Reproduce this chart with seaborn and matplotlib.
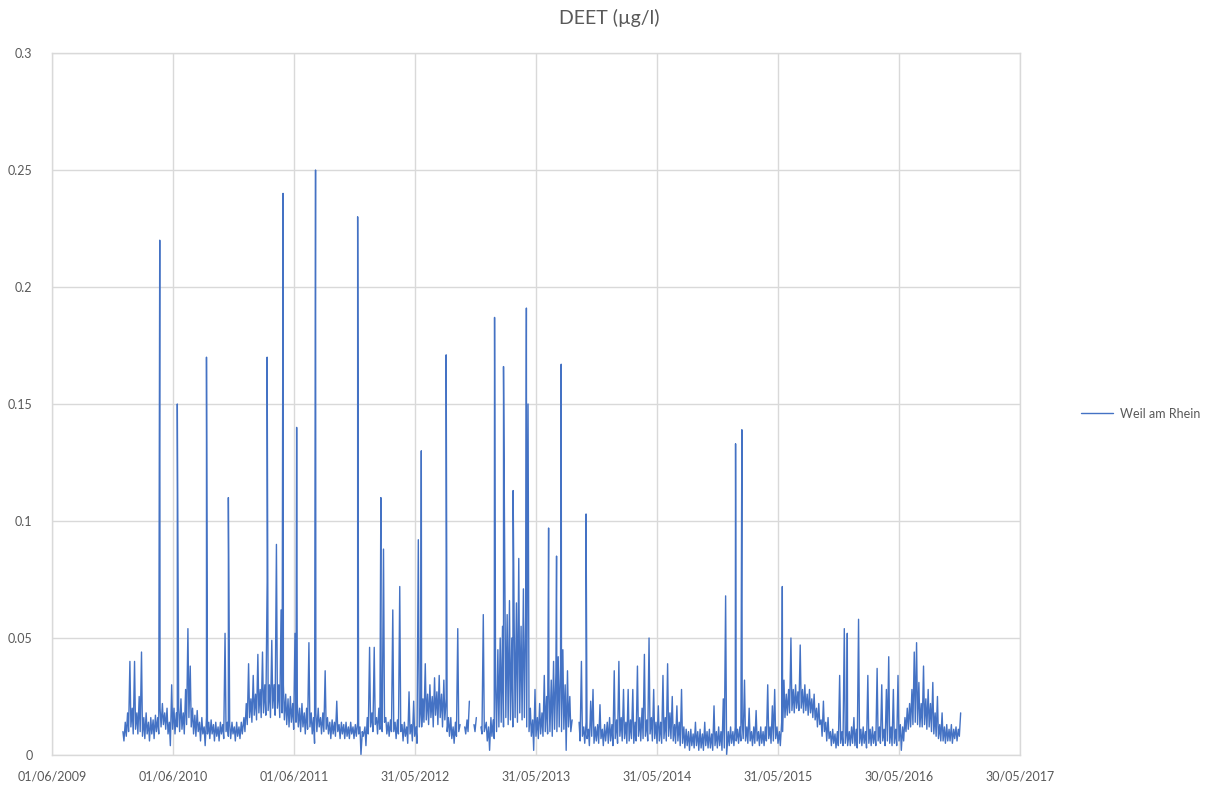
import matplotlib
matplotlib.use('Agg')
import numpy as np
import pandas as pd
import seaborn as sns
import matplotlib.pyplot as plt
import matplotlib.dates as mdates

nan = np.nan

# DEET at Weil am Rhein (ug/l)
# hi_* : upper reading of each week (from 1 Jan), lo_* : lower reading of each week (from 4 Jan)
hi_2010 = [0.010, 0.014, 0.018, 0.040, 0.020, 0.040, 0.018, 0.025, 0.044, 0.016,
           0.018, 0.014, 0.016, 0.015, 0.017, 0.016, 0.020, 0.022, 0.018, 0.020,
           0.014, 0.030, 0.020, 0.018, 0.020, 0.024, 0.018, 0.028, 0.054, 0.038,
           0.020, 0.017, 0.019, 0.014, 0.016, 0.012, 0.016, 0.014, 0.015, 0.013,
           0.014, 0.012, 0.014, 0.013, 0.052, 0.014, 0.013, 0.014, 0.012, 0.014,
           0.012, 0.014]
lo_2010 = [0.006, 0.008, 0.010, 0.012, 0.009, 0.011, 0.009, 0.010, 0.008, 0.007,
           0.009, 0.006, 0.009, 0.007, 0.010, 0.009, 0.012, 0.013, 0.011, 0.009,
           0.004, 0.011, 0.009, 0.012, 0.010, 0.011, 0.009, 0.013, 0.016, 0.012,
           0.009, 0.008, 0.010, 0.006, 0.009, 0.004, 0.009, 0.007, 0.009, 0.006,
           0.008, 0.006, 0.009, 0.007, 0.010, 0.008, 0.007, 0.009, 0.006, 0.008,
           0.007, 0.009]
hi_2011 = [0.016, 0.022, 0.039, 0.024, 0.034, 0.026, 0.043, 0.028, 0.044, 0.030,
           0.074, 0.030, 0.049, 0.030, 0.090, 0.030, 0.062, 0.030, 0.026, 0.024,
           0.025, 0.022, 0.052, 0.022, 0.020, 0.022, 0.018, 0.020, 0.048, 0.018,
           0.016, 0.018, 0.020, 0.016, 0.018, 0.036, 0.016, 0.014, 0.015, 0.014,
           0.023, 0.013, 0.014, 0.013, 0.014, 0.012, 0.014, 0.012, 0.013, 0.014,
           0.012, 0.010]
lo_2011 = [0.010, 0.013, 0.016, 0.014, 0.017, 0.015, 0.018, 0.016, 0.018, 0.017,
           0.019, 0.016, 0.020, 0.017, 0.020, 0.016, 0.018, 0.015, 0.013, 0.012,
           0.014, 0.011, 0.014, 0.012, 0.010, 0.012, 0.009, 0.011, 0.012, 0.009,
           0.005, 0.010, 0.012, 0.009, 0.010, 0.011, 0.009, 0.007, 0.009, 0.008,
           0.010, 0.007, 0.009, 0.007, 0.008, 0.007, 0.009, 0.007, 0.008, 0.009,
           0.000, 0.008]
hi_2012 = [0.012, 0.016, 0.046, 0.018, 0.046, 0.016, 0.020, 0.016, 0.088, 0.016,
           0.014, 0.015, 0.062, 0.014, 0.015, 0.072, 0.013, 0.014, 0.012, 0.027,
           0.013, 0.023, 0.012, 0.092, 0.020, 0.024, 0.039, 0.026, 0.030, 0.025,
           0.033, 0.027, 0.034, 0.026, 0.032, 0.024, 0.016, 0.016, 0.012, 0.014,
           0.054, 0.013, nan, 0.012, 0.015, 0.023, nan, 0.013, 0.016, nan,
           0.012, 0.060]
lo_2012 = [0.004, 0.009, 0.012, 0.010, 0.013, 0.009, 0.011, 0.010, 0.014, 0.009,
           0.008, 0.010, 0.010, 0.007, 0.009, 0.010, 0.006, 0.008, 0.005, 0.009,
           0.006, 0.008, 0.005, 0.012, 0.012, 0.014, 0.015, 0.013, 0.016, 0.012,
           0.017, 0.013, 0.016, 0.012, 0.015, 0.010, 0.008, 0.007, 0.005, 0.008,
           0.010, nan, nan, 0.009, 0.010, nan, nan, 0.010, nan, nan,
           0.009, 0.010]
hi_2013 = [0.014, 0.012, 0.016, 0.015, 0.030, 0.045, 0.050, 0.055, 0.075, 0.060,
           0.066, 0.050, 0.058, 0.065, 0.084, 0.055, 0.071, 0.060, 0.150, 0.020,
           0.015, 0.028, 0.016, 0.022, 0.018, 0.034, 0.025, 0.030, 0.032, 0.040,
           0.035, 0.042, 0.038, 0.045, 0.030, 0.036, 0.025, 0.015, nan, nan,
           0.014, 0.040, 0.012, 0.014, 0.011, 0.023, 0.028, 0.012, 0.013, 0.0215,
           0.011, 0.013]
lo_2013 = [0.006, 0.002, 0.008, 0.007, 0.010, 0.012, 0.014, 0.012, 0.016, 0.013,
           0.015, 0.012, 0.016, 0.014, 0.018, 0.015, 0.016, 0.012, 0.010, 0.008,
           0.002, 0.008, 0.007, 0.009, 0.008, 0.010, 0.009, 0.010, 0.008, 0.011,
           0.010, 0.012, 0.010, 0.011, 0.002, 0.012, 0.010, nan, nan, nan,
           0.006, 0.008, 0.005, 0.007, 0.004, 0.008, 0.005, 0.006, 0.005, 0.007,
           0.004, 0.006]
hi_2014 = [0.014, 0.016, 0.013, 0.036, 0.015, 0.040, 0.016, 0.028, 0.014, 0.028,
           0.015, 0.028, 0.014, 0.038, 0.016, 0.020, 0.043, 0.015, 0.050, 0.016,
           0.028, 0.014, 0.021, 0.014, 0.034, 0.016, 0.039, 0.018, 0.025, 0.013,
           0.021, 0.014, 0.028, 0.012, 0.011, 0.010, 0.011, 0.009, 0.014, 0.010,
           0.011, 0.009, 0.014, 0.010, 0.011, 0.009, 0.021, 0.010, 0.012, 0.010,
           0.024, 0.068]
lo_2014 = [0.005, 0.006, 0.004, 0.007, 0.005, 0.008, 0.006, 0.007, 0.005, 0.006,
           0.007, 0.005, 0.006, 0.008, 0.006, 0.007, 0.008, 0.006, 0.009, 0.006,
           0.007, 0.005, 0.006, 0.005, 0.007, 0.006, 0.008, 0.007, 0.006, 0.005,
           0.006, 0.004, 0.005, 0.003, 0.004, 0.002, 0.004, 0.003, 0.004, 0.002,
           0.003, 0.002, 0.004, 0.003, 0.003, 0.002, 0.004, 0.003, 0.004, 0.002,
           0.003, 0.000]
hi_2015 = [0.010, 0.012, 0.010, 0.012, 0.011, 0.012, 0.015, 0.032, 0.012, 0.020,
           0.010, 0.012, 0.019, 0.010, 0.012, 0.010, 0.012, 0.030, 0.012, 0.021,
           0.028, 0.012, 0.010, 0.014, 0.032, 0.026, 0.028, 0.050, 0.028, 0.030,
           0.027, 0.047, 0.028, 0.030, 0.026, 0.028, 0.024, 0.026, 0.020, 0.022,
           0.015, 0.023, 0.014, 0.016, 0.010, 0.011, 0.009, 0.010, 0.034, 0.010,
           0.054, 0.010]
lo_2015 = [0.004, 0.005, 0.004, 0.006, 0.005, 0.006, 0.007, 0.006, 0.005, 0.006,
           0.004, 0.005, 0.006, 0.004, 0.005, 0.004, 0.006, 0.007, 0.005, 0.006,
           0.007, 0.005, 0.004, 0.010, 0.016, 0.017, 0.018, 0.019, 0.018, 0.020,
           0.019, 0.020, 0.018, 0.019, 0.017, 0.018, 0.016, 0.015, 0.012, 0.013,
           0.008, 0.010, 0.006, 0.007, 0.004, 0.005, 0.003, 0.004, 0.005, 0.004,
           0.005, 0.004]
hi_2016 = [0.010, 0.012, 0.016, 0.011, 0.058, 0.011, 0.012, 0.010, 0.034, 0.011,
           0.012, 0.010, 0.037, 0.012, 0.030, 0.011, 0.028, 0.042, 0.012, 0.028,
           0.011, 0.034, 0.013, 0.012, 0.016, 0.020, 0.022, 0.028, 0.044, 0.048,
           0.031, 0.022, 0.038, 0.024, 0.028, 0.022, 0.031, 0.018, 0.025, 0.013,
           0.018, 0.012, 0.013, 0.011, 0.013, 0.011, 0.012, 0.011, 0.018]
lo_2016 = [0.004, 0.005, 0.004, 0.003, 0.005, 0.004, 0.005, 0.003, 0.005, 0.004,
           0.005, 0.004, 0.006, 0.005, 0.006, 0.004, 0.006, 0.005, 0.004, 0.005,
           0.004, 0.006, 0.002, 0.006, 0.010, 0.011, 0.012, 0.013, 0.014, 0.013,
           0.012, 0.012, 0.013, 0.011, 0.012, 0.010, 0.009, 0.008, 0.007, 0.006,
           0.006, 0.005, 0.006, 0.006, 0.005, 0.007, 0.006, 0.008]

# single-day peaks
spike_dates = ['2010-04-22', '2010-06-14', '2010-09-10', '2010-11-15', '2011-03-12',
               '2011-04-29', '2011-06-09', '2011-08-05', '2011-12-10', '2012-02-18',
               '2012-06-19', '2012-09-02', '2013-01-26', '2013-02-22', '2013-03-23',
               '2013-05-02', '2013-07-08', '2013-08-01', '2013-08-15', '2013-10-29',
               '2015-01-23', '2015-02-11', '2015-06-13', '2015-12-26']
spike_values = [0.22, 0.15, 0.17, 0.11, 0.17,
                0.24, 0.14, 0.25, 0.23, 0.11,
                0.13, 0.171, 0.187, 0.166, 0.113,
                0.191, 0.097, 0.085, 0.167, 0.103,
                0.133, 0.139, 0.072, 0.052]

years = [2010, 2011, 2012, 2013, 2014, 2015, 2016]
hi_all = [hi_2010, hi_2011, hi_2012, hi_2013, hi_2014, hi_2015, hi_2016]
lo_all = [lo_2010, lo_2011, lo_2012, lo_2013, lo_2014, lo_2015, lo_2016]

frames = []
for yr, hi, lo in zip(years, hi_all, lo_all):
    frames.append(pd.DataFrame({'date': pd.date_range(f'{yr}-01-01', periods=len(hi), freq='7D'),
                                'value': hi}))
    frames.append(pd.DataFrame({'date': pd.date_range(f'{yr}-01-04', periods=len(lo), freq='7D'),
                                'value': lo}))
frames.append(pd.DataFrame({'date': pd.to_datetime(spike_dates), 'value': spike_values}))
df = pd.concat(frames).sort_values('date', kind='stable').reset_index(drop=True)
# split into runs at the missing readings so gaps stay open
df['seg'] = df['value'].isna().cumsum()
df = df.dropna()

sns.set_style('white')
plt.rcParams['font.family'] = ['Lato', 'DejaVu Sans']

grey = '#595959'
fig = plt.figure(figsize=(12.18, 7.87), dpi=100)
ax = fig.add_axes([52 / 1218, 1 - 755 / 787, 968 / 1218, 702 / 787])

sns.lineplot(data=df, x='date', y='value', units='seg', estimator=None, sort=True,
             color='#4472C4', linewidth=1.0, label='Weil am Rhein', ax=ax)

start = pd.Timestamp('2009-06-01')
ticks = [start + pd.Timedelta(days=365 * k) for k in range(9)]
ax.set_xlim(ticks[0], ticks[-1])
ax.set_xticks(ticks)
ax.xaxis.set_major_formatter(mdates.DateFormatter('%d/%m/%Y'))
ax.set_ylim(0, 0.3)
ax.set_yticks([0, 0.05, 0.1, 0.15, 0.2, 0.25, 0.3])
ax.set_yticklabels(['0', '0.05', '0.1', '0.15', '0.2', '0.25', '0.3'])
ax.grid(True, color='#d9d9d9', linewidth=1.0)
ax.set_axisbelow(True)
for s in ax.spines.values():
    s.set_color('#d9d9d9')
    s.set_linewidth(1.0)
ax.tick_params(axis='both', length=0, labelsize=9, colors=grey)
ax.tick_params(axis='y', pad=14)
ax.tick_params(axis='x', pad=11)
ax.set_xlabel('')
ax.set_ylabel('')

handles, labels = ax.get_legend_handles_labels()
ax.legend(handles[:1], labels[:1], loc='center left', bbox_to_anchor=(1.063, 0.486),
          frameon=False, fontsize=9, labelcolor=grey, handlelength=2.6,
          handletextpad=0.5, borderaxespad=0, borderpad=0)

fig.text(0.5, 1 - 18 / 787, 'DEET (µg/l)', ha='center', va='center', fontsize=14, color=grey)

fig.savefig('out.png', dpi=100)
